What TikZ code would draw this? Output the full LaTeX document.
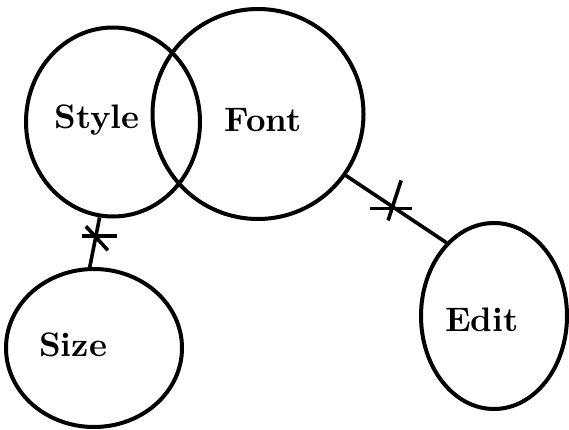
\documentclass[tikz,border=0pt]{standalone}
\usepackage{fontspec}
\setmainfont{Latin Modern Roman}
\usepackage{graphicx}
\usepackage{tikz}
\usetikzlibrary{shapes.geometric}
\newcommand{\bigword}[1]{\scalebox{3.4}{\bfseries #1}}

\begin{document}
\begin{tikzpicture}[
  x=1pt, y=-1pt,
  blob/.style={draw=black, ellipse, line width=4pt, inner sep=0pt},
  word/.style={inner sep=0pt},
  link/.style={draw=black, line width=3.6pt},
  tick/.style={draw=black, line width=3.6pt}
]
\useasboundingbox (0,0) rectangle (569,430);
\node[blob, minimum width=174pt, minimum height=189pt] (style) at (113,122) {};
\node[blob, minimum width=211pt, minimum height=210pt] (font) at (258,114) {};
\node[blob, minimum width=176pt, minimum height=158pt] (size) at (94,348) {};
\node[blob, minimum width=146pt, minimum height=186pt] (edit) at (494,316) {};
\node[word] (styletext) at (97,120) {\bigword{Style}};
\node[word] (fonttext) at (263,120) {\bigword{Font}};
\node[word] (sizetext) at (73,345) {\bigword{Size}};
\node[word] (edittext) at (482,320) {\bigword{Edit}};
\draw[link] (style.262) -- coordinate[pos=0.38] (cut1) (size.93);
\draw[link] (font.325) -- coordinate[pos=0.46] (cut2) (edit.123);
% cross marks on the links
\draw[tick] ([xshift=-14pt]cut1) -- ([xshift=21pt]cut1);
\draw[tick] ([shift={(-10,-10)}]cut1) -- ([shift={(12,14)}]cut1);
\draw[tick] ([shift={(-22,2)}]cut2) -- ([shift={(20,2)}]cut2);
\draw[tick] ([shift={(9,-26)}]cut2) -- ([shift={(-4,14)}]cut2);
\end{tikzpicture}
\end{document}
